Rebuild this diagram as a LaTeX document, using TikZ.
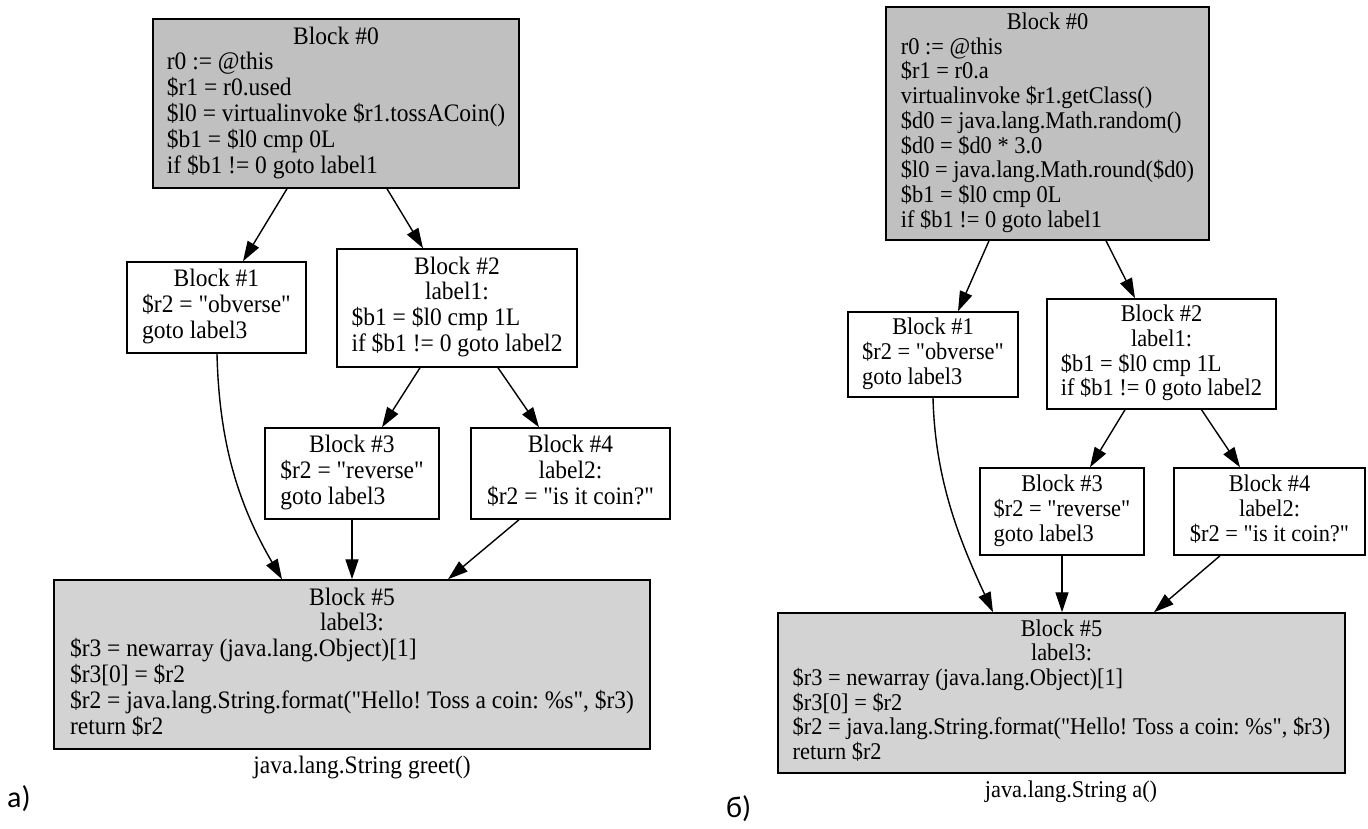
\documentclass[tikz,border=0pt]{standalone}
\usepackage{fontspec}
\setmainfont{Liberation Serif}[Ligatures=TeXOff]
\newfontfamily\labfont{Carlito}
\usetikzlibrary{arrows.meta}
\definecolor{gvgray}{HTML}{C0C0C0}
\definecolor{gvlight}{HTML}{D3D3D3}
\frenchspacing
\newcommand\gvL{\fontsize{23.5}{23.8}\selectfont}
\newcommand\gvR{\fontsize{22.4}{22.9}\selectfont}
\newcommand\vs[1]{\scalebox{1}[1.07]{#1}}
\newcommand\hd[1]{\multicolumn{1}{@{}c@{}}{#1}}
\begin{document}
\begin{tikzpicture}[x=1pt,y=-1pt,
  blk/.style={draw, line width=1.5pt, rectangle, inner sep=0pt, fill=white},
  lft/.style={font=\gvL},
  rgt/.style={font=\gvR},
  edge/.style={line width=1.4pt, -{Triangle[length=20pt,width=13pt]}},
  captxt/.style={inner sep=0pt},
  tag/.style={inner sep=0pt, anchor=base west, font=\labfont\fontsize{30}{34}\selectfont}]
\useasboundingbox (0,0) rectangle (1368,828);

% ---------- left graph ----------
\node[blk, lft, fill=gvgray, minimum width=366pt, minimum height=169pt] (L0) at (336,103.5)
 {\vs{\begin{tabular}{@{}l@{}}\hd{Block \#0}\\ r0 := @this\\ \$r1 = r0.used\\ \$l0 = virtualinvoke \$r1.tossACoin()\\ \$b1 = \$l0 cmp 0L\\ if \$b1 != 0 goto label1\end{tabular}}};
\node[blk, lft, minimum width=179pt, minimum height=91pt] (L1) at (216.5,307.5)
 {\vs{\begin{tabular}{@{}l@{}}\hd{Block \#1}\\ \$r2 = "obverse"\\ goto label3\end{tabular}}};
\node[blk, lft, minimum width=240pt, minimum height=118pt] (L2) at (457,308)
 {\vs{\begin{tabular}{@{}l@{}}\hd{Block \#2}\\ \hd{label1:}\\ \$b1 = \$l0 cmp 1L\\ if \$b1 != 0 goto label2\end{tabular}}};
\node[blk, lft, minimum width=174pt, minimum height=91pt] (L3) at (352,473.5)
 {\vs{\begin{tabular}{@{}l@{}}\hd{Block \#3}\\ \$r2 = "reverse"\\ goto label3\end{tabular}}};
\node[blk, lft, minimum width=199pt, minimum height=91pt] (L4) at (570.5,473.5)
 {\vs{\begin{tabular}{@{}c@{}}Block \#4\\ label2:\\ \$r2 = "is it coin?"\end{tabular}}};
\node[blk, lft, fill=gvlight, minimum width=596pt, minimum height=169pt] (L5) at (352,664.5)
 {\vs{\begin{tabular}{@{}l@{}}\hd{Block \#5}\\ \hd{label3:}\\ \$r3 = newarray (java.lang.Object)[1]\\ \$r3[0] = \$r2\\ \$r2 = java.lang.String.format("Hello! Toss a coin: \%s", \$r3)\\ return \$r2\end{tabular}}};
\node[captxt, lft] (Lcap) at (362,767) {\vs{java.lang.String greet()}};
\node[tag] (Ltag) at (7,807) {a)};

\draw[edge] ([xshift=-49pt]L0.south) -- ([xshift=26.5pt]L1.north);
\draw[edge] ([xshift=51pt]L0.south) -- ([xshift=-34pt]L2.north);
\draw[edge] ([xshift=-37pt]L2.south) -- ([xshift=30pt]L3.north);
\draw[edge] ([xshift=41pt]L2.south) -- ([xshift=-31.5pt]L4.north);
\draw[edge] ([xshift=0.5pt]L1.south) .. controls +(2,86) and +(-45,-77) .. ([xshift=-70pt]L5.north);
\draw[edge] (L3.south) -- (L5.north -| L3.south);
\draw[edge] ([xshift=-51.5pt]L4.south) -- ([xshift=96pt]L5.north);

% ---------- right graph ----------
\node[blk, rgt, fill=gvgray, minimum width=323pt, minimum height=233pt] (R0) at (1047.5,123.5)
 {\vs{\begin{tabular}{@{}l@{}}\hd{Block \#0}\\ r0 := @this\\ \$r1 = r0.a\\ virtualinvoke \$r1.getClass()\\ \$d0 = java.lang.Math.random()\\ \$d0 = \$d0 * 3.0\\ \$l0 = java.lang.Math.round(\$d0)\\ \$b1 = \$l0 cmp 0L\\ if \$b1 != 0 goto label1\end{tabular}}};
\node[blk, rgt, minimum width=170pt, minimum height=85pt] (R1) at (933,354.5)
 {\vs{\begin{tabular}{@{}l@{}}\hd{Block \#1}\\ \$r2 = "obverse"\\ goto label3\end{tabular}}};
\node[blk, rgt, minimum width=229pt, minimum height=110pt] (R2) at (1161.5,354)
 {\vs{\begin{tabular}{@{}l@{}}\hd{Block \#2}\\ \hd{label1:}\\ \$b1 = \$l0 cmp 1L\\ if \$b1 != 0 goto label2\end{tabular}}};
\node[blk, rgt, minimum width=164pt, minimum height=87pt] (R3) at (1062,511.5)
 {\vs{\begin{tabular}{@{}l@{}}\hd{Block \#3}\\ \$r2 = "reverse"\\ goto label3\end{tabular}}};
\node[blk, rgt, minimum width=191pt, minimum height=87pt] (R4) at (1269.5,511.5)
 {\vs{\begin{tabular}{@{}c@{}}Block \#4\\ label2:\\ \$r2 = "is it coin?"\end{tabular}}};
\node[blk, rgt, fill=gvlight, minimum width=567pt, minimum height=160pt] (R5) at (1061.5,693)
 {\vs{\begin{tabular}{@{}l@{}}\hd{Block \#5}\\ \hd{label3:}\\ \$r3 = newarray (java.lang.Object)[1]\\ \$r3[0] = \$r2\\ \$r2 = java.lang.String.format("Hello! Toss a coin: \%s", \$r3)\\ return \$r2\end{tabular}}};
\node[captxt, rgt] (Rcap) at (1071,792) {\vs{java.lang.String a()}};
\node[tag] (Rtag) at (726,817) {б)};

\draw[edge] ([xshift=-58.5pt]R0.south) -- ([xshift=25pt]R1.north);
\draw[edge] ([xshift=58.5pt]R0.south) -- ([xshift=-26.5pt]R2.north);
\draw[edge] ([xshift=-36.5pt]R2.south) -- ([xshift=28pt]R3.north);
\draw[edge] ([xshift=40pt]R2.south) -- ([xshift=-29.5pt]R4.north);
\draw[edge] (R1.south) .. controls +(2,80) and +(-35,-75) .. ([xshift=-68.5pt]R5.north);
\draw[edge] (R3.south) -- (R5.north -| R3.south);
\draw[edge] ([xshift=-49.5pt]R4.south) -- ([xshift=92.5pt]R5.north);
\end{tikzpicture}
\end{document}
